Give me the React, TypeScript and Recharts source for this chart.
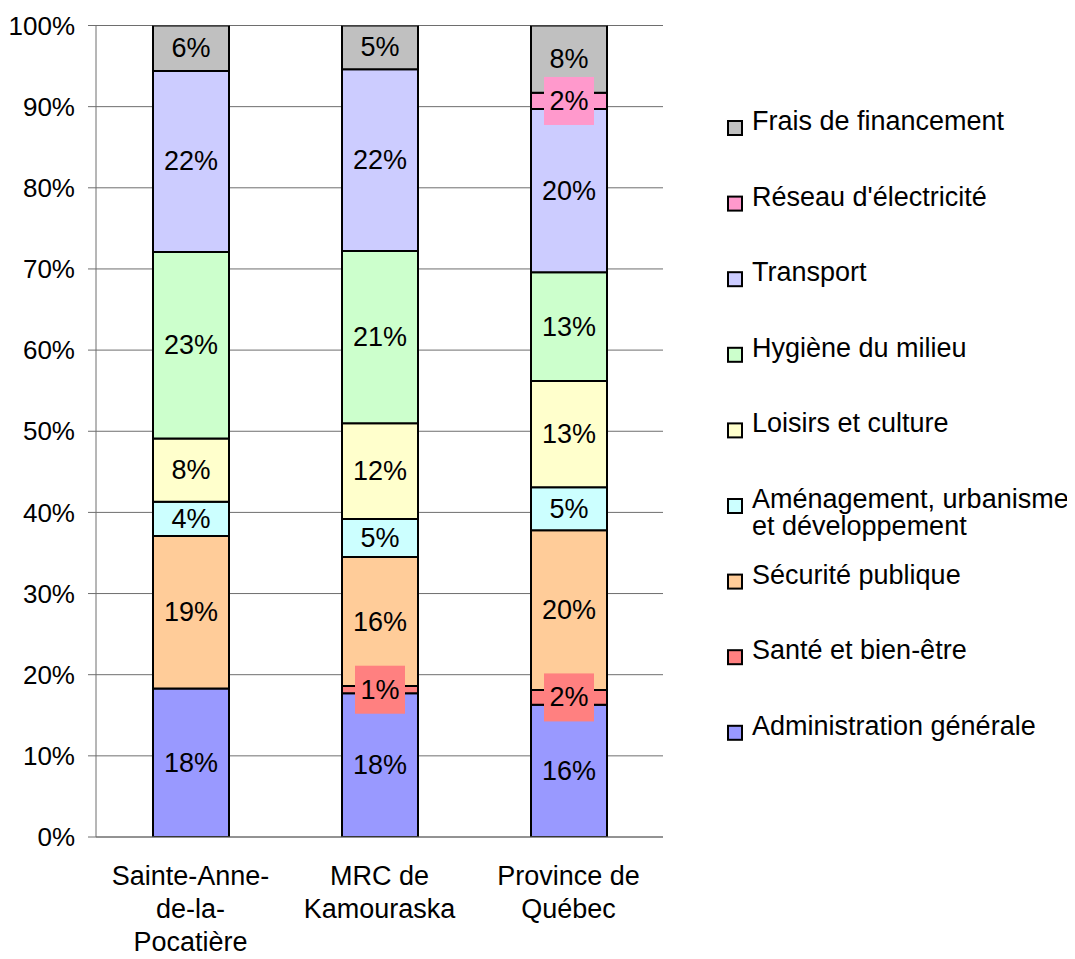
import { Bar, BarChart, CartesianGrid, LabelList, Legend, XAxis, YAxis } from "recharts";

const categories = ["Sainte-Anne-de-la-Pocatière", "MRC de Kamouraska", "Province de Québec"];
const categoryLines = [["Sainte-Anne-", "de-la-", "Pocatière"], ["MRC de", "Kamouraska"], ["Province de", "Québec"]];

// parts of each total, in percent
const administration = [18.3, 17.7, 16.3];
const sante = [0, 0.9, 1.8];
const securite = [18.8, 15.9, 19.7];
const amenagement = [4.2, 4.7, 5.3];
const loisirs = [7.8, 11.8, 13.1];
const hygiene = [23.0, 21.2, 13.4];
const transport = [22.3, 22.4, 20.1];
const reseau = [0, 0, 2.0];
const frais = [5.6, 5.4, 8.3];

const yTicks = [0, 10, 20, 30, 40, 50, 60, 70, 80, 90, 100];

const FONT = "Arial, 'Liberation Sans', sans-serif";

const series = [
  { key: "admin", name: "Administration générale", values: administration, color: "#9999FF", boxed: false },
  { key: "sante", name: "Santé et bien-être", values: sante, color: "#FF8080", boxed: true },
  { key: "securite", name: "Sécurité publique", values: securite, color: "#FFCC99", boxed: false },
  { key: "amenagement", name: "Aménagement, urbanisme\net développement", values: amenagement, color: "#CCFFFF", boxed: false },
  { key: "loisirs", name: "Loisirs et culture", values: loisirs, color: "#FFFFCC", boxed: false },
  { key: "hygiene", name: "Hygiène du milieu", values: hygiene, color: "#CCFFCC", boxed: false },
  { key: "transport", name: "Transport", values: transport, color: "#CCCCFF", boxed: false },
  { key: "reseau", name: "Réseau d'électricité", values: reseau, color: "#FF99CC", boxed: true },
  { key: "frais", name: "Frais de financement", values: frais, color: "#C0C0C0", boxed: false }
];

const data = categories.map((name, i) => {
  const row: Record<string, number | string> = { name, idx: i };
  series.forEach((s) => {
    row[s.key] = s.values[i];
  });
  return row;
});

function makeLabel(boxColor: string | null) {
  return (props: any) => {
    const { x, y, width, height, value } = props;
    if (!value) return null;
    const cx = Number(x) + Number(width) / 2;
    const cy = Number(y) + Number(height) / 2;
    return (
      <g>
        {boxColor && <rect x={cx - 25} y={cy - 24} width={50} height={48} fill={boxColor} />}
        <text
          x={cx}
          y={cy}
          textAnchor="middle"
          dominantBaseline="central"
          fontFamily={FONT}
          fontSize={27}
          fill="#000"
        >
          {Math.round(Number(value))}%
        </text>
      </g>
    );
  };
}

function CategoryTick(props: any) {
  const { x, y, payload } = props;
  const lines = categoryLines[payload.index] ?? [String(payload.value)];
  return (
    <g>
      {lines.map((line, i) => (
        <text
          key={i}
          x={x}
          y={y + 48 + i * 33}
          textAnchor="middle"
          fontFamily={FONT}
          fontSize={27}
          fill="#000"
        >
          {line}
        </text>
      ))}
    </g>
  );
}

function LegendBox() {
  const entries = [...series].reverse();
  return (
    <svg width={352} height={680}>
      {entries.map((s, i) => {
        const base = 32 + i * 75.6;
        const lines = s.name.split("\n");
        return (
          <g key={s.key}>
            <rect x={5} y={base - 9} width={14} height={14} fill={s.color} stroke="#000" strokeWidth={2} />
            {lines.map((line, j) => (
              <text key={j} x={29} y={base + j * 27} fontFamily={FONT} fontSize={27} fill="#000">
                {line}
              </text>
            ))}
          </g>
        );
      })}
    </svg>
  );
}

export default function App() {
  return (
    <div style={{ width: 1067, height: 951, fontFamily: FONT }}>
      <BarChart width={1067} height={951} data={data} margin={{ top: 17.5, right: 412, bottom: 0, left: 0 }}>
        <CartesianGrid vertical={false} stroke="#6e6e6e" strokeWidth={1} />
        <XAxis
          dataKey="name"
          height={122}
          tickSize={0}
          tickMargin={0}
          tickLine={false}
          axisLine={{ stroke: "#6e6e6e", strokeWidth: 1 }}
          tick={<CategoryTick />}
          interval={0}
        />
        <YAxis
          width={88}
          domain={[0, 100]}
          ticks={yTicks}
          allowDataOverflow
          tickSize={8}
          tickMargin={13}
          tickLine={{ stroke: "#6e6e6e" }}
          axisLine={{ stroke: "#6e6e6e" }}
          tickFormatter={(v) => `${v}%`}
          tick={{ fontSize: 26, fill: "#000", fontFamily: FONT }}
        />
        <Legend
          layout="vertical"
          align="center"
          verticalAlign="middle"
          wrapperStyle={{ left: 715, top: 90, width: 352 }}
          content={<LegendBox />}
        />
        {series.map((s) => (
          <Bar
            key={s.key}
            dataKey={s.key}
            name={s.name}
            stackId="total"
            fill={s.color}
            stroke="#000"
            strokeWidth={2}
            barSize={76}
            isAnimationActive={false}
          >
            <LabelList dataKey={s.key} content={makeLabel(s.boxed ? s.color : null)} />
          </Bar>
        ))}
      </BarChart>
    </div>
  );
}
